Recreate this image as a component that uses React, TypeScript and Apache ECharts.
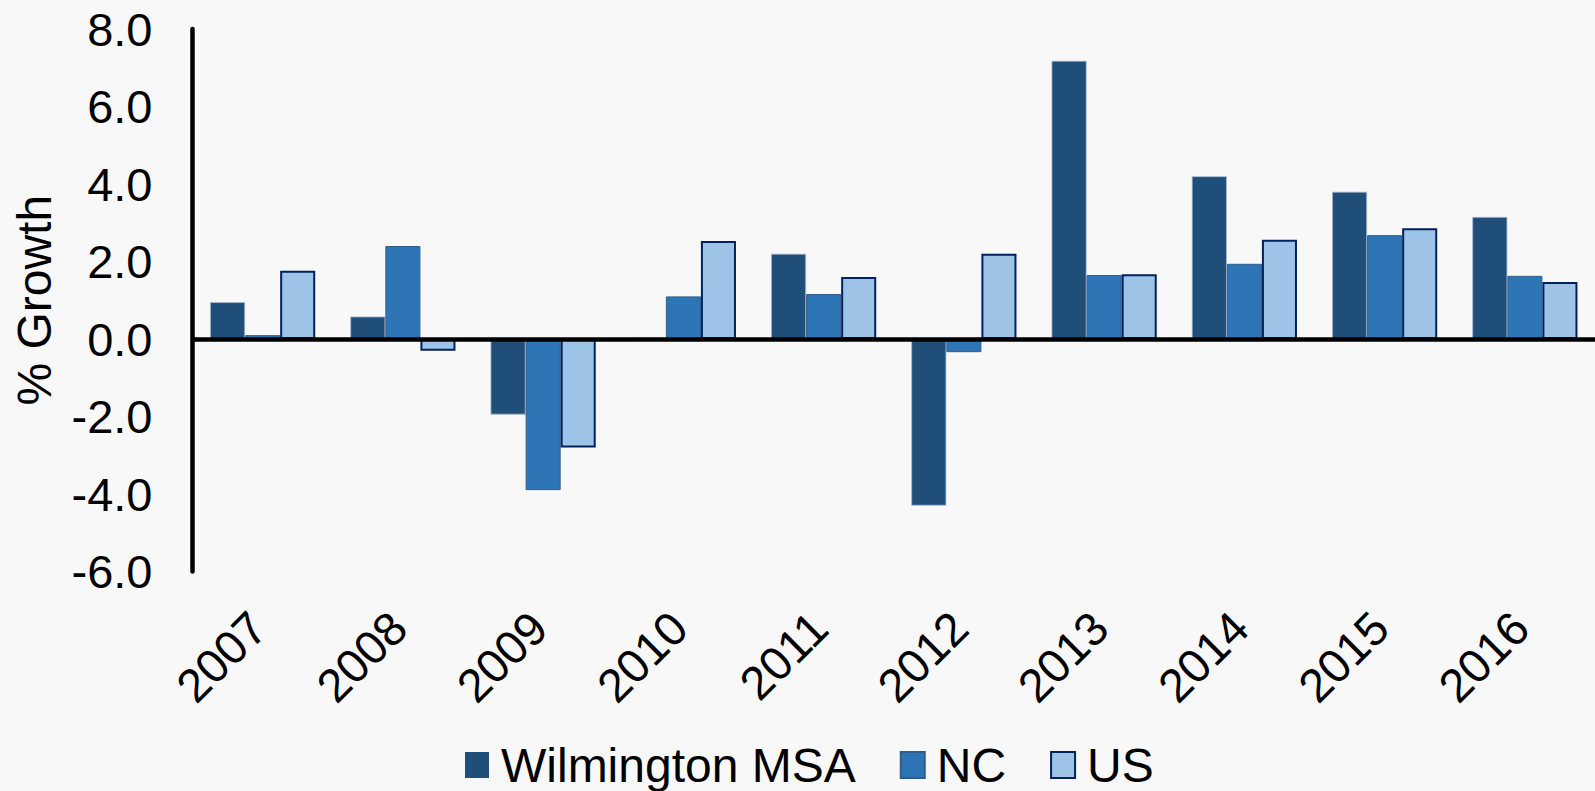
import React, { useEffect, useRef } from "react";
import * as echarts from "echarts";

const years = ["2007", "2008", "2009", "2010", "2011", "2012", "2013", "2014", "2015", "2016"];
const wilmington = [0.95, 0.58, -1.95, 0.03, 2.2, -4.3, 7.18, 4.2, 3.8, 3.15];
const nc = [0.1, 2.4, -3.9, 1.1, 1.16, -0.34, 1.65, 1.94, 2.68, 1.63];
const us = [1.76, -0.3, -2.8, 2.53, 1.6, 2.2, 1.67, 2.56, 2.86, 1.47];
const seriesNames = ["Wilmington MSA", "NC", "US"];

const FONT = "'Liberation Sans', Arial, sans-serif";

export default function App() {
  const ref = useRef<HTMLDivElement>(null);
  useEffect(() => {
    if (!ref.current) return;
    const chart = echarts.init(ref.current, undefined, { renderer: "svg" });
    chart.setOption({
      animation: false,
      backgroundColor: "#F8F8F8",
      textStyle: { fontFamily: FONT },
      grid: { left: 192.5, right: 0, top: 29, bottom: 219.5, containLabel: false },
      legend: {
        left: 465,
        top: 741,
        itemWidth: 24,
        itemHeight: 26,
        itemGap: 44,
        padding: 0,
        icon: "rect",
        textStyle: { fontSize: 48, color: "#000", fontFamily: FONT, padding: [0, 0, 0, 7] },
        data: [
          { name: seriesNames[0], itemStyle: { borderWidth: 0 } },
          { name: seriesNames[1] },
          { name: seriesNames[2] },
        ],
      },
      xAxis: {
        type: "category",
        data: years,
        axisLine: { show: false, onZero: false },
        axisTick: { show: false },
        axisLabel: {
          rotate: 45,
          fontSize: 47,
          color: "#000",
          margin: 44,
          padding: [0, 6, 0, 0],
          fontFamily: FONT,
          interval: 0,
        },
      },
      yAxis: {
        type: "value",
        min: -6,
        max: 8,
        interval: 2,
        name: "% Growth",
        nameLocation: "middle",
        nameGap: 134,
        nameTextStyle: { fontSize: 48, color: "#000", fontFamily: FONT },
        axisLine: { show: true, lineStyle: { color: "#000", width: 4.5 } },
        axisTick: { show: false },
        splitLine: { show: false },
        axisLabel: {
          fontSize: 47,
          color: "#000",
          margin: 40,
          fontFamily: FONT,
          formatter: (v: number) => v.toFixed(1),
        },
      },
      series: [
        {
          name: seriesNames[0],
          type: "bar",
          data: wilmington,
          barGap: "0%",
          barCategoryGap: "25%",
          itemStyle: { color: "#1F4E79", borderColor: "#A9B9CC", borderWidth: 0.8 },
          markLine: {
            silent: true,
            symbol: "none",
            label: { show: false },
            lineStyle: { color: "#000", width: 4.5, type: "solid" },
            data: [{ yAxis: 0 }],
            z: 10,
          },
        },
        {
          name: seriesNames[1],
          type: "bar",
          data: nc,
          barGap: "0%",
          barCategoryGap: "25%",
          itemStyle: { color: "#2E75B6", borderColor: "#2F5E8E", borderWidth: 1 },
        },
        {
          name: seriesNames[2],
          type: "bar",
          data: us,
          barGap: "0%",
          barCategoryGap: "25%",
          itemStyle: { color: "#9DC3E6", borderColor: "#002060", borderWidth: 2 },
        },
      ],
    });
    return () => chart.dispose();
  }, []);
  return (
    <div
      ref={ref}
      style={{ position: "absolute", left: 0, top: 0, width: 1595, height: 791 }}
    />
  );
}
